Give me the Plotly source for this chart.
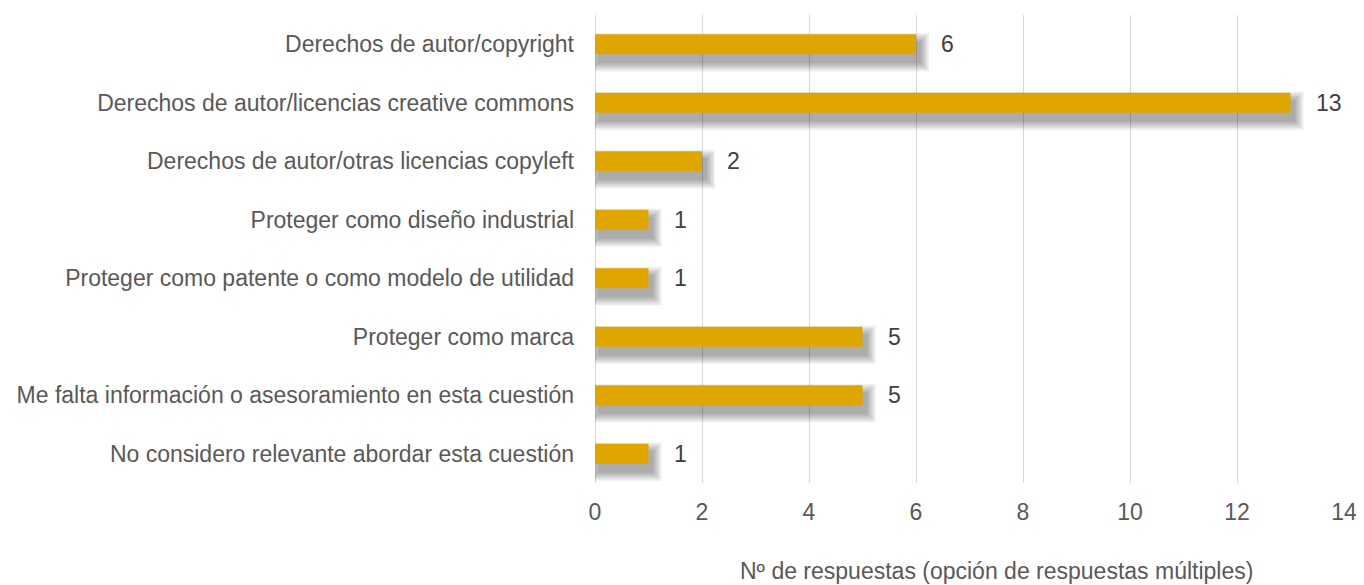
import plotly.graph_objects as go

categories = [
    "Derechos de autor/copyright",
    "Derechos de autor/licencias creative commons",
    "Derechos de autor/otras licencias copyleft",
    "Proteger como diseño industrial",
    "Proteger como patente o como modelo de utilidad",
    "Proteger como marca",
    "Me falta información o asesoramiento en esta cuestión",
    "No considero relevante abordar esta cuestión",
]
values = [6, 13, 2, 1, 1, 5, 5, 1]
x_ticks = [0, 2, 4, 6, 8, 10, 12, 14]
x_title = "Nº de respuestas (opción de respuestas múltiples)"

BAR_COLOR = "#DFA600"
FONT = "Liberation Sans, Arial, sans-serif"
FS = 23
W = 0.345
PX_X = 752 / 14      # pixels per x unit
PX_Y = 468 / 8       # pixels per category

fig = go.Figure()

# blurred drop shadow (below-right), built from stacked translucent layers
SH_DX, SH_DY = 4, 8
for s in [9, 7, 5, 3, 1]:
    w = (20 + 2 * s) / PX_Y
    fig.add_trace(go.Bar(
        y=categories,
        x=[v + (2 * s) / PX_X for v in values],
        base=(SH_DX - s) / PX_X,
        orientation="h", width=w, offset=-w / 2 + SH_DY / PX_Y,
        marker=dict(color="rgba(0,0,0,0.075)", line=dict(width=0)),
        hoverinfo="skip", showlegend=False,
    ))

fig.add_trace(go.Bar(
    y=categories, x=values, orientation="h", width=W, offset=-W / 2,
    marker=dict(color=BAR_COLOR, line=dict(width=0)),
    showlegend=False,
))

annotations = [
    dict(x=v, y=c, xref="x", yref="y", text=str(v), showarrow=False,
         xanchor="left", xshift=23, font=dict(family=FONT, size=FS, color="#404040"))
    for c, v in zip(categories, values)
]
annotations.append(dict(
    x=0.536, y=-0.188, xref="paper", yref="paper", text=x_title, showarrow=False,
    xanchor="center", yanchor="middle", font=dict(family=FONT, size=FS, color="#595959"),
))

fig.update_layout(
    width=1356, height=577,
    margin=dict(l=587, r=17, t=7, b=102),
    paper_bgcolor="white", plot_bgcolor="white",
    barmode="overlay",
    font=dict(family=FONT, size=FS, color="#595959"),
    annotations=annotations,
    xaxis=dict(
        range=[0, 14], tickvals=x_ticks, showgrid=True, gridcolor="#D9D9D9", gridwidth=1,
        zeroline=True, zerolinecolor="#D9D9D9", zerolinewidth=1, showline=False,
        ticks="", ticklabelstandoff=13,
        tickfont=dict(family=FONT, size=FS, color="#595959"),
    ),
    yaxis=dict(
        categoryorder="array", categoryarray=categories, autorange="reversed",
        showgrid=False, showline=False, zeroline=False, ticks="", ticklabelstandoff=20,
        tickfont=dict(family=FONT, size=FS, color="#595959"),
    ),
)

fig.write_html("out.html")
